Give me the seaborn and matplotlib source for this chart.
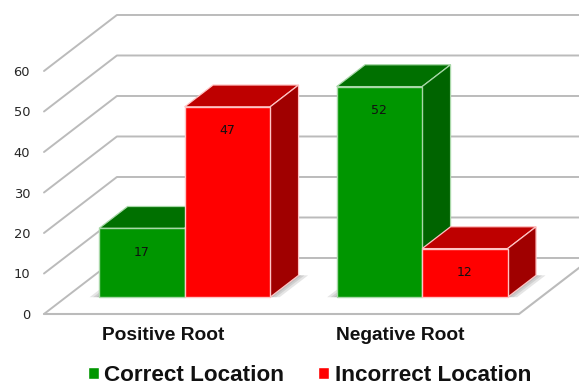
import matplotlib
matplotlib.use("Agg")
import matplotlib.pyplot as plt
import pandas as pd
import seaborn as sns

# Chart values
categories = ["Positive Root", "Negative Root"]
series_names = ["Correct Location", "Incorrect Location"]
correct_values = [17, 52]
incorrect_values = [47, 12]
tick_values = [0, 10, 20, 30, 40, 50, 60]

# Face colours of each series: front, top, side, edge
front_colors = {"Correct Location": "#009600", "Incorrect Location": "#FF0000"}
top_colors = {"Correct Location": "#007000", "Incorrect Location": "#BE0000"}
side_colors = {"Correct Location": "#006400", "Incorrect Location": "#A00000"}
edge_colors = {"Correct Location": "#A8D8A8", "Incorrect Location": "#FFC4C4"}

# Oblique projection of the chart's depth, in category and value units
WALL_DX = 0.307
WALL_DY = 13.83
INSET = 0.30   # bars start this fraction of the way into the floor
BAR_DEPTH = 0.39  # bars are this fraction of the floor deep

sns.set_theme(style="white")
plt.rcParams["font.family"] = ["DejaVu Sans"]

df = pd.DataFrame({
    "category": categories * 2,
    "series": [series_names[0]] * 2 + [series_names[1]] * 2,
    "value": correct_values + incorrect_values,
})

W, H = 579, 385
fig = plt.figure(figsize=(W / 100, H / 100), dpi=100, facecolor="white")
ax = fig.add_axes([44 / W, 1 - 314 / H, 475 / W, 243 / H])

sns.barplot(
    data=df, x="category", y="value", hue="series",
    order=categories, hue_order=series_names, palette=front_colors,
    saturation=1, width=0.72, gap=0, errorbar=None, ax=ax, zorder=5,
)
ax.set_xlim(-0.5, 1.5)
ax.set_ylim(0, 60)
ax.set_xlabel("")
ax.set_ylabel("")
sns.despine(ax=ax, left=True, bottom=True)
ax.set_yticks(tick_values)
ax.tick_params(axis="y", length=0, pad=10, labelsize=9.4, labelcolor="#262626")
ax.tick_params(axis="x", length=0, pad=9)
for lab in ax.get_xticklabels():
    lab.set_fontfamily("Liberation Sans")
    lab.set_fontweight("bold")
    lab.set_fontsize(13.8)
    lab.set_color("#111111")

# Side wall and back wall gridlines
grid_color = "#BBBBBB"
x0, x1 = ax.get_xlim()
for v in tick_values:
    ax.plot([x0, x0 + WALL_DX, x1 + WALL_DX], [v, v + WALL_DY, v + WALL_DY],
            color=grid_color, lw=1.4, clip_on=False, zorder=1)
# Remaining floor edges
ax.plot([x0, x1, x1 + WALL_DX], [0, 0, WALL_DY],
        color=grid_color, lw=1.5, clip_on=False, zorder=1)

ix, iy = WALL_DX * INSET, WALL_DY * INSET
bx, by = WALL_DX * BAR_DEPTH, WALL_DY * BAR_DEPTH

# Soft shadow of each bar pair on the floor
for i in range(len(categories)):
    left = i - 0.36 + ix
    right = i + 0.36 + ix
    for pad in (0.04, 0.025, 0.012):
        ax.fill([left - pad, right + pad, right + bx + pad, left + bx - pad],
                [iy, iy, iy + by, iy + by],
                color="#707070", alpha=0.18, lw=0, clip_on=False, zorder=2)

# Extrude every bar into a box, back to front
bars = list(ax.patches)[:4]
owners = [series_names[0]] * 2 + [series_names[1]] * 2
pairs = sorted(zip(bars, owners), key=lambda t: t[0].get_x())
for order, (bar, name) in enumerate(pairs):
    z = 5 + order
    value = bar.get_height()
    bar.set_x(bar.get_x() + ix)
    bar.set_y(iy)
    bar.set_edgecolor(edge_colors[name])
    bar.set_linewidth(1.0)
    bar.set_clip_on(False)
    bar.set_zorder(z + 0.5)
    left, right = bar.get_x(), bar.get_x() + bar.get_width()
    top = iy + value
    ax.fill([left, right, right + bx, left + bx], [top, top, top + by, top + by],
            facecolor=top_colors[name], edgecolor=edge_colors[name], lw=0.9,
            clip_on=False, zorder=z)
    ax.fill([right, right + bx, right + bx, right], [iy, iy + by, top + by, top],
            facecolor=side_colors[name], edgecolor=edge_colors[name], lw=0.9,
            clip_on=False, zorder=z)
    ax.annotate(f"{value:.0f}", xy=((left + right) / 2 - 0.002, top), xytext=(0, -17.2),
                textcoords="offset points", ha="center", va="center",
                fontsize=9.0, color="#111111", zorder=20, annotation_clip=False)

sns.move_legend(
    ax, loc="center", bbox_to_anchor=(309.5 / W, 1 - 375.5 / H),
    bbox_transform=fig.transFigure, ncol=2, frameon=False, title=None,
    handlelength=0.5, handleheight=0.5, handletextpad=0.25, columnspacing=1.5,
    prop={"family": "Liberation Sans", "weight": "bold", "size": 16.2},
)
for text in ax.get_legend().get_texts():
    text.set_color("#111111")

fig.savefig("out.png", dpi=100)
